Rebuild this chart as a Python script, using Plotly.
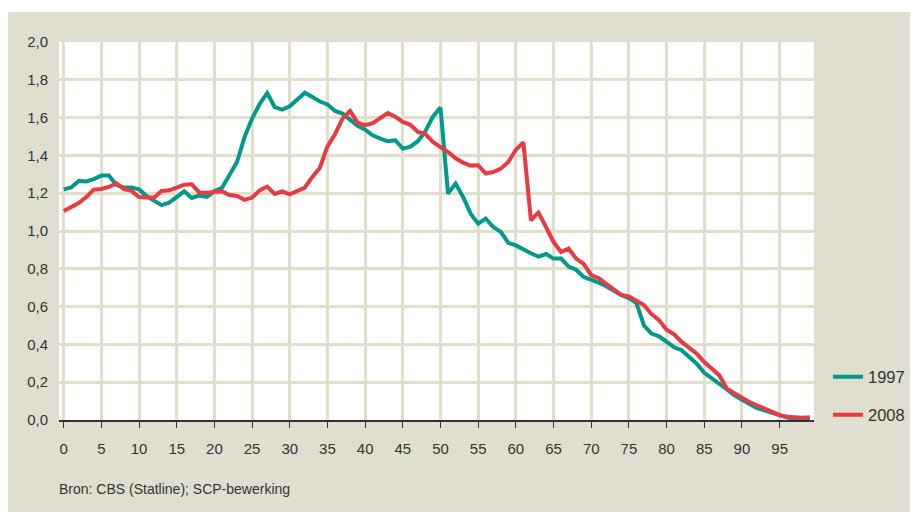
import plotly.graph_objects as go

ages = list(range(100))

v1997 = [1.22, 1.23, 1.265, 1.262, 1.275, 1.293, 1.293, 1.245, 1.23, 1.23,
         1.22, 1.185, 1.16, 1.137, 1.15, 1.18, 1.21, 1.175, 1.188, 1.18,
         1.21, 1.228, 1.295, 1.365, 1.497, 1.595, 1.672, 1.73, 1.656, 1.642,
         1.66, 1.695, 1.732, 1.709, 1.685, 1.67, 1.635, 1.621, 1.59, 1.556,
         1.536, 1.506, 1.489, 1.475, 1.48, 1.436, 1.446, 1.475, 1.528, 1.605,
         1.653, 1.198, 1.251, 1.18, 1.092, 1.039, 1.066, 1.021, 0.995, 0.937,
         0.924, 0.9, 0.882, 0.864, 0.878, 0.854, 0.855, 0.812, 0.795, 0.757,
         0.744, 0.727, 0.708, 0.685, 0.66, 0.645, 0.619, 0.5, 0.457, 0.443,
         0.415, 0.385, 0.369, 0.335, 0.298, 0.25, 0.222, 0.195, 0.162, 0.13,
         0.105, 0.085, 0.063, 0.05, 0.035, 0.022, 0.013, 0.008, 0.005, 0.004]

v2008 = [1.106, 1.127, 1.148, 1.18, 1.219, 1.222, 1.233, 1.252, 1.222, 1.212,
         1.18, 1.177, 1.177, 1.212, 1.215, 1.23, 1.245, 1.247, 1.204, 1.202,
         1.206, 1.21, 1.19, 1.185, 1.165, 1.177, 1.215, 1.235, 1.196, 1.21,
         1.194, 1.212, 1.23, 1.286, 1.335, 1.448, 1.512, 1.595, 1.635, 1.573,
         1.56, 1.571, 1.6, 1.624, 1.605, 1.577, 1.562, 1.524, 1.513, 1.471,
         1.444, 1.418, 1.385, 1.362, 1.346, 1.348, 1.304, 1.312, 1.33, 1.365,
         1.43, 1.468, 1.057, 1.097, 1.021, 0.942, 0.889, 0.907, 0.854, 0.826,
         0.766, 0.75, 0.72, 0.69, 0.662, 0.654, 0.628, 0.608, 0.56, 0.528,
         0.478, 0.453, 0.413, 0.383, 0.351, 0.307, 0.272, 0.236, 0.166, 0.14,
         0.118, 0.095, 0.078, 0.06, 0.04, 0.026, 0.017, 0.013, 0.012, 0.014]

x_ticks = list(range(0, 100, 5))
y_ticks = [round(0.2 * i, 1) for i in range(11)]
source_text = "Bron: CBS (Statline); SCP-bewerking"

TEAL = "#00998a"
RED = "#e83a42"
BEIGE = "#e0dfcf"
GRID = "#e0dfcc"
FONT = "Liberation Sans, Arial, sans-serif"

# figure sits at (8, 8) in the page (default body margin)
W, H = 910, 509
L, R, T, B = 51, 104, 34, 97
pw = W - L - R
ph = H - T - B

def px_x(X):
    return (X - L) / pw

def px_y(Y):
    return (H - B - Y) / ph

fig = go.Figure()
fig.add_trace(go.Scatter(x=ages, y=v1997, mode="lines", name="1997",
                         line=dict(color=TEAL, width=4), legend="legend"))
fig.add_trace(go.Scatter(x=ages, y=v2008, mode="lines", name="2008",
                         line=dict(color=RED, width=4), legend="legend2"))

shapes = [
    dict(type="rect", xref="paper", yref="paper", x0=px_x(0), x1=px_x(W),
         y0=px_y(0), y1=px_y(4), fillcolor="white", line_width=0, layer="below"),
    dict(type="rect", xref="paper", yref="paper", x0=px_x(0), x1=px_x(W),
         y0=px_y(504), y1=px_y(H), fillcolor="white", line_width=0, layer="below"),
]

fig.update_layout(
    width=W, height=H,
    margin=dict(l=L, r=R, t=T, b=B, autoexpand=False),
    paper_bgcolor=BEIGE,
    plot_bgcolor="white",
    separators=",.",
    font=dict(family=FONT, size=15, color="#333333"),
    shapes=shapes,
    showlegend=True,
    legend=dict(x=px_x(820), y=px_y(369), xanchor="left", yanchor="middle",
                bgcolor="rgba(0,0,0,0)", itemwidth=30, font=dict(size=16.5)),
    legend2=dict(x=px_x(820), y=px_y(407), xanchor="left", yanchor="middle",
                 bgcolor="rgba(0,0,0,0)", itemwidth=30, font=dict(size=16.5)),
    annotations=[dict(text=source_text, xref="paper", yref="paper",
                      x=px_x(49), y=px_y(481), xanchor="left", yanchor="middle",
                      showarrow=False, font=dict(size=14, color="#333333"))],
)

fig.update_xaxes(range=[-0.62, 99.56], tickvals=x_ticks, ticktext=[str(v) for v in x_ticks],
                 showgrid=True, gridcolor=GRID, gridwidth=2.5,
                 showline=True, linecolor="#333333", linewidth=1.5,
                 ticks="outside", ticklen=6, tickcolor="#333333", tickwidth=1.2,
                 ticklabelstandoff=8, zeroline=False,
                 tickfont=dict(size=15))
fig.update_yaxes(range=[0, 2.0], tickvals=y_ticks, tickformat=".1f",
                 showgrid=True, gridcolor=GRID, gridwidth=2.5,
                 showline=False, ticks="", ticklabelstandoff=10, zeroline=False,
                 tickfont=dict(size=15))

fig.write_html("out.html")
